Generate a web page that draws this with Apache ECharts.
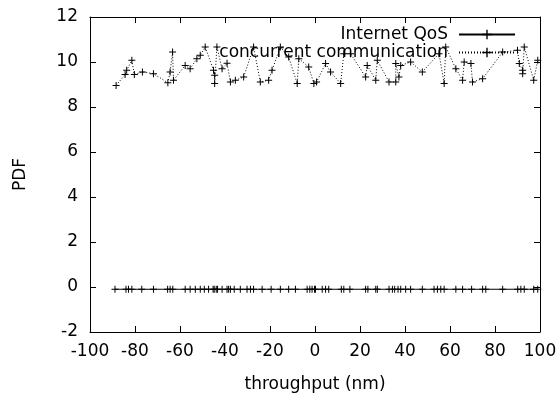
<!DOCTYPE html>
<html>
<head>
<meta charset="utf-8">
<script src="https://cdn.jsdelivr.net/npm/echarts@6/dist/echarts.min.js"></script>
<style>
  html, body { margin: 0; padding: 0; background: #fff; }
  #chart { width: 560px; height: 394px; }
</style>
</head>
<body>
<div id="chart"></div>
<script>
// throughput values (x) and PDF values (y)
const qosX = [-88.9, -84.0, -82.9, -81.4, -77.0, -71.8, -65.5, -64.4, -63.2, -57.7,
  -55.5, -53.2, -51.0, -49.2, -47.3, -45.3, -44.8, -43.9, -43.3, -41.3,
  -39.1, -38.4, -37.6, -35.9, -33.2, -30.2, -28.7, -27.3, -23.5, -19.5,
  -15.4, -11.7, -8.7, -3.5, -2.3, -1.3, -0.2, 0.2, 3.2, 4.7,
  6.1, 11.7, 12.8, 15.5, 22.5, 23.5, 27.0, 27.7, 32.9, 34.4,
  35.4, 36.9, 38.1, 40.3, 42.5, 47.7, 52.9, 54.4, 55.9, 57.4,
  62.6, 65.6, 69.6, 74.5, 75.9, 83.4, 90.1, 91.5, 93.0, 97.2, 99.0];
const qosY = -0.1;

const ccX = [-88.4, -84.4, -83.7, -81.4, -80.3, -76.7, -71.8, -65.4, -64.4, -63.3,
  -62.9, -57.7, -55.5, -52.5, -51.0, -48.8, -45.1, -44.6, -44.6, -43.6,
  -41.3, -39.1, -37.6, -35.4, -31.7, -27.3, -24.3, -20.6, -19.1, -15.4,
  -11.7, -7.9, -7.2, -2.8, -0.5, 0.7, 4.7, 6.9, 11.4, 12.8,
  15.8, 22.5, 23.2, 27.0, 27.7, 32.9, 35.9, 35.9, 37.3, 38.1,
  42.5, 47.7, 55.1, 57.4, 58.1, 62.6, 65.6, 66.3, 69.3, 70.0,
  74.5, 83.4, 90.0, 90.8, 92.3, 92.3, 93.0, 97.2, 99.0];
const ccY = [8.96, 9.44, 9.63, 10.08, 9.44, 9.56, 9.48, 9.08, 9.56, 10.44,
  9.19, 9.85, 9.70, 10.15, 10.30, 10.67, 9.63, 9.41, 9.04, 10.67,
  9.70, 9.94, 9.11, 9.19, 9.33, 10.67, 9.11, 9.19, 9.63, 10.67,
  10.22, 9.04, 10.15, 9.78, 9.04, 9.11, 9.93, 9.56, 9.04, 10.37,
  10.37, 9.33, 9.85, 9.19, 10.08, 9.11, 9.11, 9.93, 9.33, 9.85,
  10.00, 9.56, 10.37, 9.04, 10.67, 9.70, 9.19, 10.00, 9.93, 9.11,
  9.26, 10.44, 10.52, 9.93, 9.63, 9.48, 10.67, 9.19, 10.08];

const xTicks = [-100, 100, 20];
const yTicks = [-2, 12, 2];

const font = 'DejaVu Sans';
const plus = 'path://M3,0H4V3H7V4H4V7H3V4H0V3H3Z';

const chart = echarts.init(document.getElementById('chart'));

function axisBase(min, max, interval) {
  return {
    type: 'value',
    min: min,
    max: max,
    interval: interval,
    splitLine: { show: false },
    axisLine: { show: true, onZero: false, lineStyle: { color: '#000', width: 1 } },
    axisTick: { show: true, inside: true, length: 6, lineStyle: { color: '#000' } }
  };
}

const legendBase = {
  orient: 'vertical',
  align: 'right',
  right: 39,
  itemWidth: 56,
  itemHeight: 12,
  textStyle: { fontFamily: font, fontSize: 17, color: '#000', padding: [0, 6, 0, 0] }
};

var option = {
  backgroundColor: '#ffffff',
  animation: false,
  grid: { left: 90, right: 20, top: 17, bottom: 62, outerBoundsMode: 'none' },
  legend: [
    Object.assign({}, legendBase, { top: 21, data: ['Internet QoS'] }),
    Object.assign({}, legendBase, { top: 39, data: ['concurrent communication'] })
  ],
  xAxis: [
    Object.assign(axisBase(xTicks[0], xTicks[1], xTicks[2]), {
      position: 'bottom',
      name: 'throughput (nm)',
      nameLocation: 'middle',
      nameGap: 44,
      nameTextStyle: { fontFamily: font, fontSize: 17, color: '#000' },
      axisLabel: { fontFamily: font, fontSize: 17, color: '#000', margin: 11 }
    }),
    Object.assign(axisBase(xTicks[0], xTicks[1], xTicks[2]), {
      position: 'top',
      axisLabel: { show: false }
    })
  ],
  yAxis: [
    Object.assign(axisBase(yTicks[0], yTicks[1], yTicks[2]), {
      position: 'left',
      name: 'PDF',
      nameLocation: 'middle',
      nameGap: 61,
      nameTextStyle: { fontFamily: font, fontSize: 17, color: '#000' },
      axisLabel: { fontFamily: font, fontSize: 17, color: '#000', margin: 12 }
    }),
    Object.assign(axisBase(yTicks[0], yTicks[1], yTicks[2]), {
      position: 'right',
      axisLabel: { show: false }
    })
  ],
  series: [{
    name: 'Internet QoS',
    type: 'line',
    xAxisIndex: 0,
    yAxisIndex: 0,
    data: qosX.map(function (x) { return [x, qosY]; }),
    symbol: plus,
    symbolSize: 7,
    showAllSymbol: true,
    itemStyle: { color: '#000' },
    lineStyle: { color: '#000', width: 1 }
  }, {
    name: 'concurrent communication',
    type: 'line',
    xAxisIndex: 0,
    yAxisIndex: 0,
    data: ccX.map(function (x, i) { return [x, ccY[i]]; }),
    symbol: plus,
    symbolSize: 7,
    showAllSymbol: true,
    itemStyle: { color: '#000' },
    lineStyle: { color: '#000', width: 1, type: [1, 2] }
  }]
};

chart.setOption(option);
</script>
</body>
</html>
